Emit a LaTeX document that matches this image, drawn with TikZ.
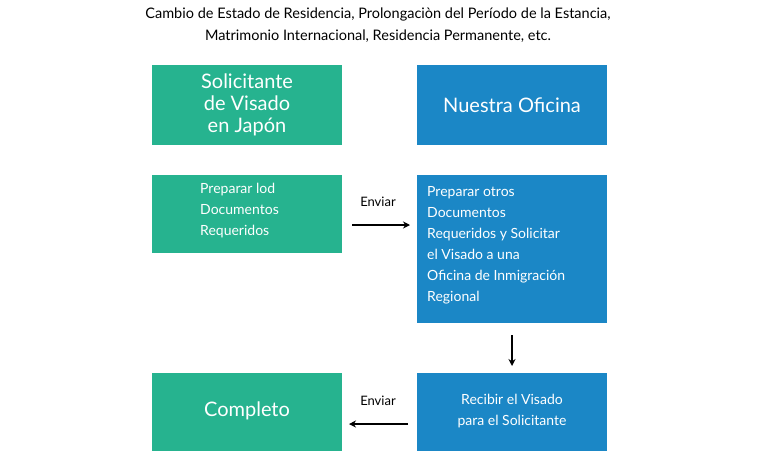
\documentclass[tikz,border=0pt]{standalone}
\usepackage{fontspec}
\usetikzlibrary{arrows.meta}
\setmainfont{Lato}
\definecolor{gr}{HTML}{26B38F}
\definecolor{bl}{HTML}{1B87C6}
\begin{document}
\begin{tikzpicture}[x=1pt,y=-1pt,
 box/.style={draw=none,text=white,inner sep=0pt},
 arr/.style={-{Stealth[length=7pt,width=7pt]},line width=1.6pt}]
\useasboundingbox (0,0) rectangle (759,461);
\node[font=\fontsize{14.5}{22}\selectfont,align=center] (hdr) at (378,25) {Cambio de Estado de Residencia, Prolongaciòn del Período de la Estancia,\\Matrimonio Internacional, Residencia Permanente, etc.};
\fill[gr] (152,65) rectangle (342,145); \node[box,font=\fontsize{20}{22}\selectfont,align=center] (a) at (247,105) {Solicitante\\de Visado\\en Japón};
\fill[bl] (417,65) rectangle (607,145); \node[box,font=\fontsize{20}{22}\selectfont] (b) at (512,105) {Nuestra Oficina};
\fill[gr] (152,175) rectangle (342,253); \node[box,font=\fontsize{14}{21}\selectfont,align=left,anchor=north west] (c) at (200,183) {Preparar lod\\Documentos\\Requeridos};
\fill[bl] (417,175) rectangle (607,323); \node[box,font=\fontsize{14}{21}\selectfont,align=left,anchor=north west] (d) at (427,186) {Preparar otros\\Documentos\\Requeridos y Solicitar\\el Visado a una\\Oficina de Inmigración\\Regional};
\fill[bl] (417,373) rectangle (607,451); \node[box,font=\fontsize{14}{21}\selectfont,align=center] (e) at (512,411) {Recibir el Visado\\para el Solicitante};
\fill[gr] (152,373) rectangle (342,451); \node[box,font=\fontsize{20}{22}\selectfont] (f) at (247,411) {Completo};
\coordinate (p1) at (352,225); \coordinate (p2) at (410,225);
\draw[arr] (p1) -- (p2); \node[font=\fontsize{13}{14}\selectfont] (t1) at (378,202) {Enviar};
\coordinate (p3) at (512,335); \coordinate (p4) at (512,366);
\draw[arr] (p3) -- (p4);
\coordinate (p5) at (408,424); \coordinate (p6) at (349,424);
\draw[arr] (p5) -- (p6); \node[font=\fontsize{13}{14}\selectfont] (t2) at (378,401) {Enviar};
\end{tikzpicture}
\end{document}
